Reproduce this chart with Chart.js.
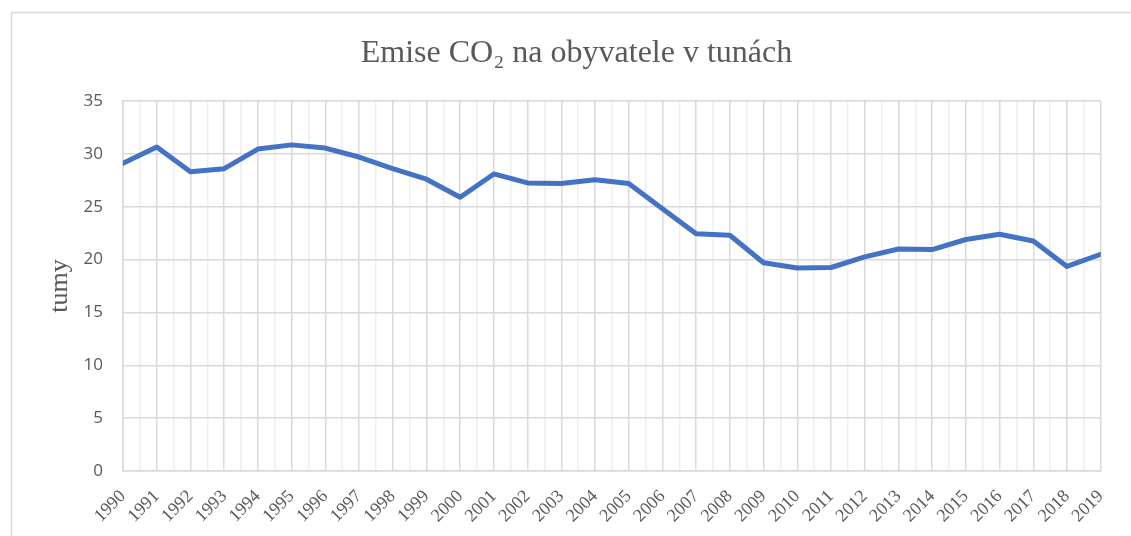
<!DOCTYPE html>
<html>
<head>
<meta charset="utf-8">
<script src="https://cdn.jsdelivr.net/npm/chart.js@4"></script>
<style>
  body { margin: 0; background: #fff; }
  #wrap { width: 1131px; height: 536px; }
</style>
</head>
<body>
<div id="wrap"><canvas id="graf"></canvas></div>
<script>
const roky = ['1990', '1991', '1992', '1993', '1994', '1995', '1996', '1997', '1998', '1999',
    '2000', '2001', '2002', '2003', '2004', '2005', '2006', '2007', '2008', '2009',
    '2010', '2011', '2012', '2013', '2014', '2015', '2016', '2017', '2018', '2019']
const emise = [29.1, 30.65, 28.3, 28.6, 30.45, 30.85, 30.55, 29.7, 28.6, 27.6,
    25.9, 28.1, 27.25, 27.2, 27.55, 27.2, 24.8, 22.45, 22.3, 19.7,
    19.2, 19.25, 20.25, 21.0, 20.95, 21.9, 22.4, 21.75, 19.35, 20.5]
const yTicks = [0, 5, 10, 15, 20, 25, 30, 35]

const sedaMrizka = '#d9d9d9'
const svetlaMrizka = '#eeeeee'
const textBarva = '#595959'

// ramecek grafu (jako v Excelu)
const ramecek = {
    id: 'ramecek',
    beforeDraw(chart) {
        const ctx = chart.ctx
        ctx.save()
        ctx.strokeStyle = sedaMrizka
        ctx.lineWidth = 1.5
        ctx.beginPath()
        ctx.moveTo(11.5, 540)
        ctx.lineTo(11.5, 12.5)
        ctx.lineTo(1131, 12.5)
        ctx.stroke()
        ctx.restore()
    }
}

const ctx = document.getElementById('graf').getContext('2d');
const chart = new Chart(ctx, {
    type: 'line',
    data: {
        labels: roky,
        datasets: [{
            label: 'Emise CO₂',
            data: emise,
            borderColor: '#4472C4',
            borderWidth: 5,
            pointRadius: 0,
            borderJoinStyle: 'round',
            borderCapStyle: 'round',
            fill: false,
            tension: 0
        }]
    },
    options: {
        responsive: true,
        maintainAspectRatio: false,
        animation: false,
        // vlevo vetsi odsazeni, aby byl nadpis vystredeny jako v originale
        layout: { padding: { left: 52, right: 30, top: 0, bottom: 0 } },
        plugins: {
            legend: { display: false },
            tooltip: { enabled: false },
            title: {
                display: true,
                text: 'Emise CO₂ na obyvatele v tunách',
                color: textBarva,
                font: { family: '"Liberation Serif", "Times New Roman", serif', size: 32, weight: 'normal', lineHeight: 1.2 },
                padding: { top: 34, bottom: 28.6 }
            }
        },
        scales: {
            x: {
                type: 'linear',
                min: 1990,
                max: 2019,
                afterBuildTicks: s => {
                    // hlavni mrizka po letech, vedlejsi v pulce
                    s.ticks = []
                    for (let v = 1990; v <= 2019; v += 0.5) s.ticks.push({ value: v })
                },
                afterFit: s => { s.height = 65 },
                ticks: {
                    autoSkip: false,
                    minRotation: 45,
                    maxRotation: 45,
                    padding: 15,
                    color: textBarva,
                    font: { family: '"Liberation Serif", "Times New Roman", serif', size: 18 },
                    callback: v => Number.isInteger(v) ? String(v) : ''
                },
                grid: {
                    color: c => Number.isInteger(c.tick.value) ? sedaMrizka : svetlaMrizka,
                    lineWidth: 1.5,
                    drawTicks: false
                },
                border: { color: sedaMrizka, width: 1.5 }
            },
            y: {
                min: 0,
                max: 35,
                afterBuildTicks: s => { s.ticks = yTicks.map(v => ({ value: v })) },
                afterFit: s => { s.width = 71 },
                ticks: {
                    padding: 20,
                    color: textBarva,
                    font: { family: '"Open Sans", sans-serif', size: 17 }
                },
                grid: { color: sedaMrizka, lineWidth: 1.5, drawTicks: false },
                border: { color: sedaMrizka, width: 1.5 },
                title: {
                    display: true,
                    text: 'tumy',
                    color: textBarva,
                    font: { family: '"Liberation Serif", "Times New Roman", serif', size: 26 },
                    padding: { top: -7.6, bottom: 0 }
                }
            }
        }
    },
    plugins: [ramecek]
})
</script>
</body>
</html>
